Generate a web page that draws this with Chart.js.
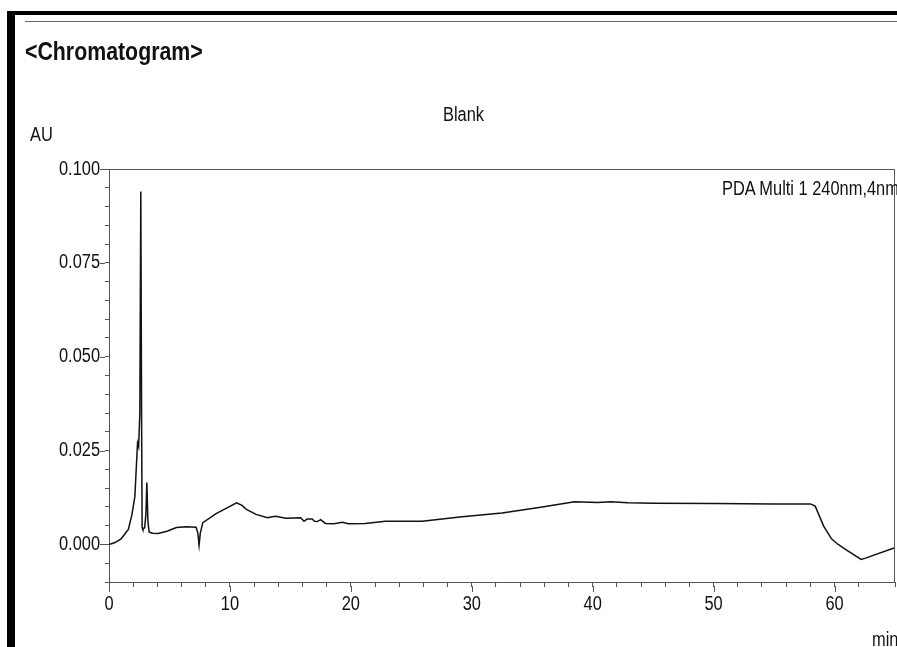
<!DOCTYPE html>
<html>
<head>
<meta charset="utf-8">
<script src="https://cdn.jsdelivr.net/npm/chart.js@4.4.0/dist/chart.umd.min.js"></script>
<style>
  body { margin: 0; background: #fff; }
  #wrap { position: relative; width: 897px; height: 647px; overflow: hidden; font-family: 'Liberation Sans', Arial, sans-serif; color: #111; }
  #grafico { position: absolute; left: 0; top: 0; }
  .txt { position: absolute; white-space: nowrap; line-height: 1; transform: scaleX(0.82); transform-origin: left top; }
  .bar { position: absolute; background: #000; }
</style>
</head>
<body>
<div id="wrap">
  <canvas id="grafico" width="897" height="647"></canvas>
  <div class="bar" style="left:7px;top:11px;width:8px;height:636px"></div>
  <div class="bar" style="left:7px;top:11px;width:890px;height:4px"></div>
  <div class="bar" style="left:25px;top:21px;width:872px;height:1px;background:#666"></div>
  <div class="txt" style="left:25px;top:38px;font-size:26px;font-weight:bold">&lt;Chromatogram&gt;</div>
  <div class="txt" style="left:443px;top:104px;font-size:20px">Blank</div>
  <div class="txt" style="left:30px;top:124px;font-size:20px">AU</div>
  <div class="txt" style="left:722px;top:178px;font-size:20px">PDA Multi 1 240nm,4nm</div>
  <div class="txt" style="left:872px;top:629px;font-size:20px">min</div>
</div>
<script>
const tiempos = [0, 0.5, 1.0, 1.6, 1.9, 2.14, 2.36, 2.45, 2.55, 2.63, 2.70, 2.74, 2.80, 2.95, 3.05, 3.13, 3.22, 3.32,
  3.6, 4.06, 4.8, 5.57, 6.4, 7.2, 7.35, 7.45, 7.55, 7.76, 8.86, 9.8, 10.55, 11.0, 11.33, 12.16, 13.11, 13.5, 13.8,
  14.6, 15.85, 16.13, 16.4, 16.8, 17.0, 17.23, 17.5, 17.9, 18.6, 19.3, 19.8, 21.2, 22.85, 25.9, 29.2, 32.5, 35.7,
  38.5, 40.4, 41.5, 42.9, 45, 50, 55, 58.0, 58.4, 59.1, 59.75, 60.3, 61.0, 62.2, 62.5, 64.8, 65];
const absorbancia = [0, 0.0005, 0.0015, 0.004, 0.008, 0.0128, 0.027, 0.026, 0.035, 0.094, 0.03, 0.0045, 0.004, 0.0045,
  0.008, 0.0165, 0.006, 0.0033, 0.003, 0.0029, 0.0035, 0.0045, 0.0047, 0.0046, 0.003, -0.0002, 0.003, 0.0058, 0.0082,
  0.0098, 0.0111, 0.0104, 0.0094, 0.008, 0.0071, 0.0074, 0.0075, 0.007, 0.0071, 0.0062, 0.0068, 0.0068, 0.0062,
  0.0061, 0.0066, 0.0056, 0.0055, 0.0059, 0.0055, 0.0056, 0.0062, 0.0062, 0.0074, 0.0084, 0.0099, 0.0114, 0.0112,
  0.0114, 0.0111, 0.011, 0.0109, 0.0108, 0.0108, 0.0102, 0.0049, 0.0015, 0.0, -0.0015, -0.004, -0.0037, -0.0011, -0.0009];
const etiquetasY = [0.000, 0.025, 0.050, 0.075, 0.100];
const etiquetasX = [0, 10, 20, 30, 40, 50, 60];

const fuente = { family: "'Liberation Sans', Arial, sans-serif", size: 20 };

function esEtiqueta(lista, v) {
  return lista.some(function(e) { return Math.abs(e - v) < 1e-6; });
}

// letra estrecha (tipo Arial Narrow) para los textos de los ejes
const estrecho = {
  id: 'estrecho',
  beforeDraw: function(chart) {
    const c = chart.ctx;
    const original = c.fillText;
    c.fillText = function(t, x, y) {
      this.save();
      this.translate(x, y);
      this.scale(0.82, 1);
      original.call(this, t, 0, 0);
      this.restore();
    };
    chart.$fillOriginal = original;
  },
  afterDraw: function(chart) {
    chart.ctx.fillText = chart.$fillOriginal;
  }
};

// marco superior/derecho y ticks mayores mas largos
const marco = {
  id: 'marco',
  afterDraw: function(chart) {
    const ctx = chart.ctx;
    const a = chart.chartArea;
    const x = chart.scales.x, y = chart.scales.y;
    ctx.save();
    ctx.strokeStyle = '#555';
    ctx.lineWidth = 1;
    ctx.beginPath();
    ctx.moveTo(a.left, a.top + 0.5);
    ctx.lineTo(a.right, a.top + 0.5);
    ctx.moveTo(a.right - 0.5, a.top);
    ctx.lineTo(a.right - 0.5, a.bottom);
    etiquetasY.forEach(function(v) {
      const py = Math.round(y.getPixelForValue(v)) + 0.5;
      ctx.moveTo(a.left - 9, py);
      ctx.lineTo(a.left - 4, py);
    });
    etiquetasX.forEach(function(v) {
      const px = Math.round(x.getPixelForValue(v)) + 0.5;
      ctx.moveTo(px, a.bottom + 4);
      ctx.lineTo(px, a.bottom + 10);
    });
    ctx.stroke();
    ctx.restore();
  }
};

const ctx = document.getElementById('grafico').getContext('2d');
new Chart(ctx, {
  type: 'line',
  data: {
    datasets: [{
      label: 'PDA Multi 1 240nm,4nm',
      data: tiempos.map(function(t, i) { return { x: t, y: absorbancia[i] }; }),
      borderColor: '#111',
      borderWidth: 1.5,
      pointRadius: 0,
      tension: 0,
      fill: false
    }]
  },
  options: {
    responsive: false,
    animation: false,
    layout: { padding: { top: 169, right: 2, left: 0, bottom: 0 } },
    plugins: { legend: { display: false }, tooltip: { enabled: false } },
    scales: {
      x: {
        type: 'linear',
        min: 0,
        max: 65,
        afterFit: function(s) { s.height = 65; s.paddingRight = 0; s.paddingLeft = 0; },
        grid: { drawOnChartArea: false, tickLength: 5, color: '#555' },
        border: { color: '#555', width: 1 },
        ticks: {
          stepSize: 2,
          autoSkip: false,
          maxRotation: 0,
          padding: 5,
          color: '#111',
          font: fuente,
          callback: function(v) { return esEtiqueta(etiquetasX, v) ? String(v) : ''; }
        }
      },
      y: {
        min: -0.01,
        max: 0.1,
        afterFit: function(s) { s.width = 109; },
        grid: { drawOnChartArea: false, tickLength: 4, color: '#555' },
        border: { color: '#555', width: 1 },
        ticks: {
          stepSize: 0.005,
          autoSkip: false,
          maxTicksLimit: 100,
          padding: 5,
          color: '#111',
          font: fuente,
          callback: function(v) { return esEtiqueta(etiquetasY, v) ? v.toFixed(3) : ''; }
        }
      }
    }
  },
  plugins: [estrecho, marco]
});
</script>
</body>
</html>
